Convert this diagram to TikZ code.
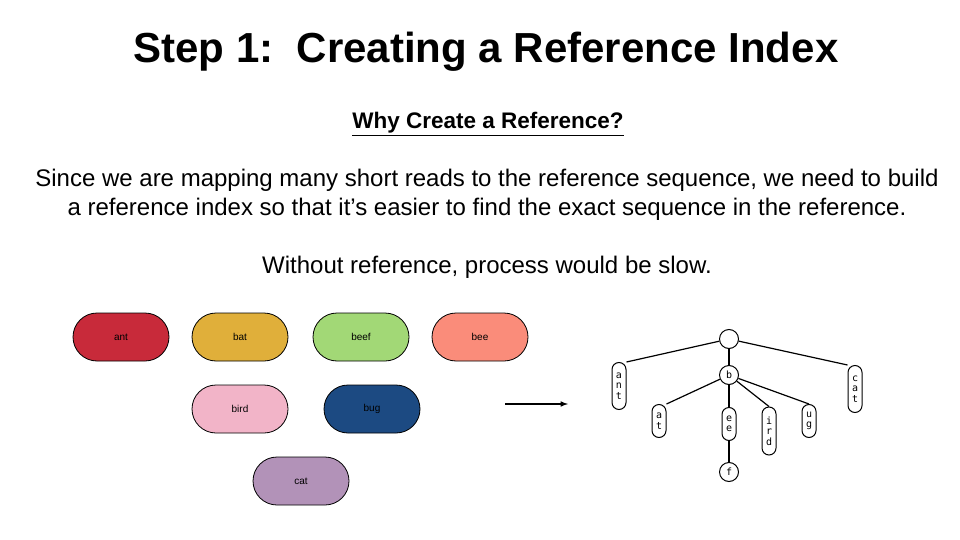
\documentclass[tikz,border=0pt]{standalone}
\usepackage{fontspec}
\setmainfont{Liberation Sans}
\newfontfamily\monof{DejaVu Sans Mono}
\begin{document}
\begin{tikzpicture}[x=1pt,y=-1pt,
 pill/.style={draw=black,line width=0.8pt,rounded corners=24pt,minimum width=96pt,minimum height=48pt,font=\fontsize{10}{11}\selectfont,inner sep=0pt},
 vpill/.style={draw=black,line width=1pt,rounded corners=7pt,minimum width=14pt,inner sep=1pt,font=\monof\fontsize{10}{10.5}\selectfont,align=center},
 circ/.style={draw=black,line width=1pt,circle,minimum size=19pt,inner sep=0pt,font=\monof\fontsize{10}{10}\selectfont},
 edge/.style={line width=1.2pt}]
\useasboundingbox (0,0) rectangle (960,540);
\node[font=\bfseries\fontsize{42}{46}\selectfont] (title) at (486,52) {Step 1:\ \ Creating a Reference Index};
\node[font=\bfseries\fontsize{22.5}{26}\selectfont] (sub) at (488,124) {\underline{Why Create a Reference?}};
\node[align=center,font=\fontsize{24}{29}\selectfont] (para) at (487,195) {Since we are mapping many short reads to the reference sequence, we need to build\\ a reference index so that it’s easier to find the exact sequence in the reference.};
\node[font=\fontsize{24}{28}\selectfont] (without) at (487,267) {Without reference, process would be slow.};
\node[pill,fill={rgb,255:red,200;green,42;blue,58}] (ant) at (121,337) {ant};
\node[pill,fill={rgb,255:red,224;green,175;blue,58}] (bat) at (240,337) {bat};
\node[pill,fill={rgb,255:red,162;green,216;blue,118}] (beef) at (361,337) {beef};
\node[pill,fill={rgb,255:red,250;green,140;blue,122}] (bee) at (480,337) {bee};
\node[pill,fill={rgb,255:red,242;green,180;blue,200}] (bird) at (240,409) {bird};
\node[pill,fill={rgb,255:red,28;green,74;blue,130}] (bug) at (372,409) {bug};
\node[pill,fill={rgb,255:red,178;green,146;blue,184}] (cat) at (301,481) {cat};
\coordinate (a1) at (505,404); \coordinate (a2) at (568,404);
\draw[line width=1.5pt,-latex] (a1) -- (a2);
\node[circ] (root) at (729,339) {};
\node[circ] (b) at (729,375) {b};
\node[vpill,minimum height=47pt] (tant) at (619,386) {a\\n\\t};
\node[vpill,minimum height=47pt] (tcat) at (855,389) {c\\a\\t};
\node[vpill,minimum height=33pt] (tat) at (659,421) {a\\t};
\node[vpill,minimum height=33pt] (tee) at (729,424) {e\\e};
\node[vpill,minimum height=48pt] (tird) at (769,431) {i\\r\\d};
\node[vpill,minimum height=33pt] (tug) at (809,421) {u\\g};
\node[circ] (f) at (729,472) {f};
\draw[edge] (root) -- (tant.north east);
\draw[edge] (root) -- (tcat.north west);
\draw[edge] (root) -- (b);
\draw[edge] (b) -- (tat.north east);
\draw[edge] (b) -- (tee);
\draw[edge] (b) -- (tird.north);
\draw[edge] (b) -- (tug.north);
\draw[edge] (tee) -- (f);
\end{tikzpicture}
\end{document}
